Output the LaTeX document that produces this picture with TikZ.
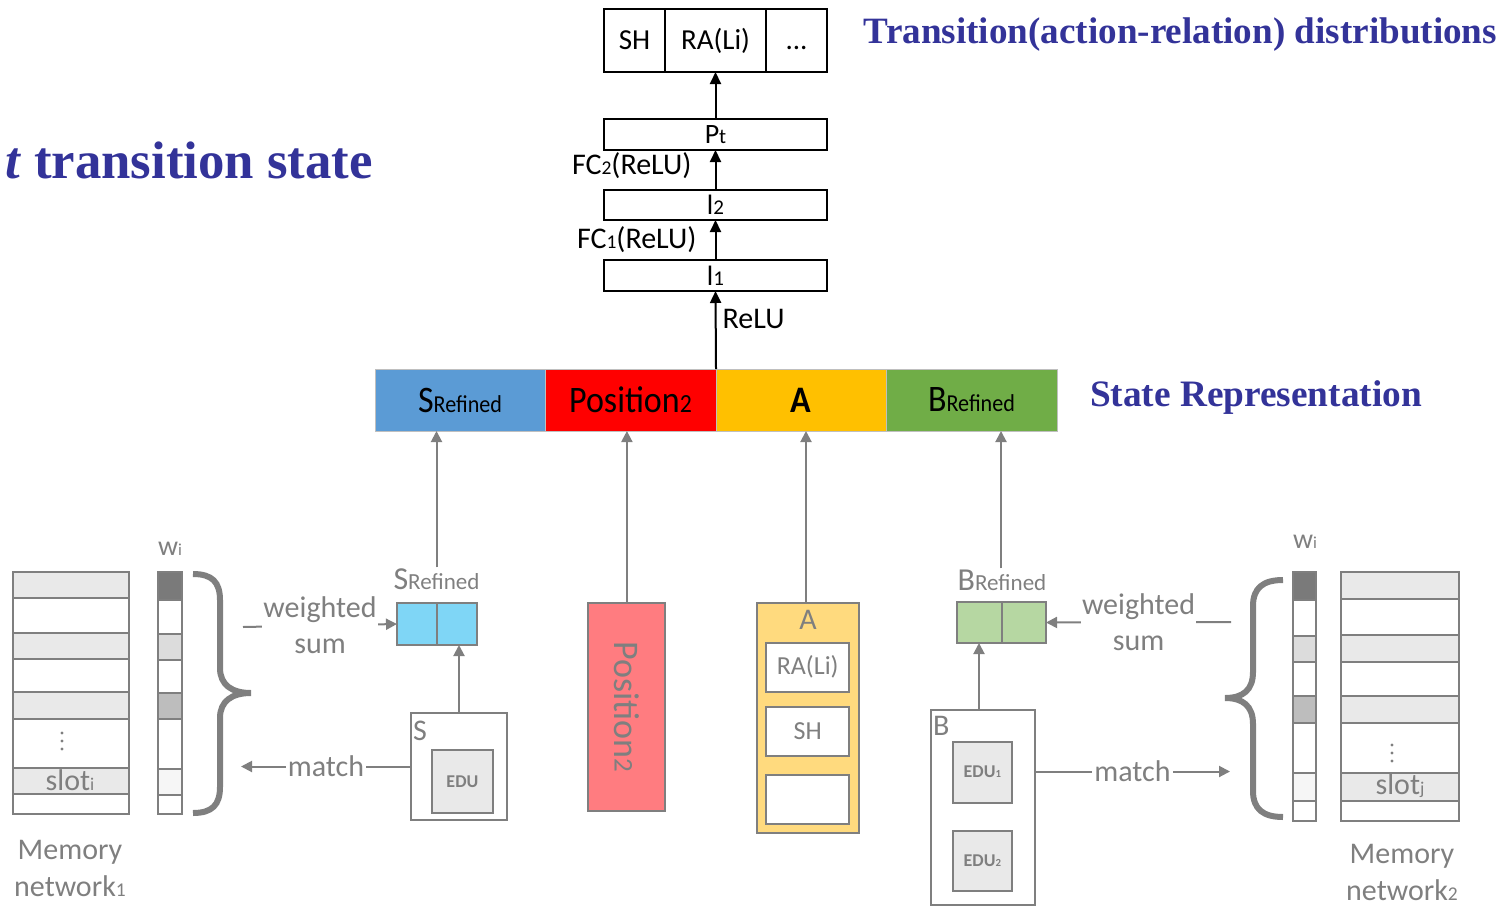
\documentclass[tikz,border=0pt]{standalone}
\usepackage{fontspec}
\usepackage{graphicx}
\setmainfont{Carlito}
\newfontfamily\titlefont{Liberation Serif}
\usetikzlibrary{arrows.meta,calc}

\definecolor{lineg}{HTML}{7F7F7F}
\definecolor{cellg}{HTML}{E9E9E9}
\definecolor{wdark}{HTML}{7A7A7A}
\definecolor{wlight}{HTML}{DCDCDC}
\definecolor{wmid}{HTML}{BDBDBD}
\definecolor{wvlight}{HTML}{F6F6F6}
\definecolor{cyanf}{HTML}{7FD6F6}
\definecolor{greenf}{HTML}{B6D7A2}
\definecolor{salmon}{HTML}{FF7C80}
\definecolor{afill}{HTML}{FFDA7E}
\definecolor{barblue}{HTML}{5B9BD5}
\definecolor{barred}{HTML}{FF0000}
\definecolor{barorange}{HTML}{FFC000}
\definecolor{bargreen}{HTML}{70AD47}
\definecolor{titleblue}{HTML}{333399}

\newcommand\fs[1]{\fontsize{#1}{#1}\selectfont}
\newcommand\lo[2][0.65]{\scalebox{#1}{#2}}

\begin{document}
\begin{tikzpicture}[x=1pt,y=-1pt,
  box/.style={rectangle, inner sep=0pt, outer sep=0pt},
  gbox/.style={box, draw=lineg, line width=2pt},
  kbox/.style={box, draw=black, line width=1.8pt, text=black},
  outcell/.style={kbox, minimum height=63pt, font=\fs{29}, text height=19pt, text depth=0pt},
  seg/.style={box, draw=black!25, line width=1pt, minimum height=62pt, text=black},
  cell/.style={draw=lineg, line width=2pt},
  gtext/.style={text=lineg, inner sep=1pt},
  garrow/.style={draw=lineg, line width=2pt, -{Triangle[length=11pt,width=11pt]}},
  barrow/.style={draw=black, line width=2pt, -{Triangle[length=12pt,width=11pt]}},
  brace/.style={draw=lineg, line width=6pt, line cap=butt},
  title/.style={text=titleblue, inner sep=0pt, font=\titlefont\bfseries}
]
\useasboundingbox (0,0) rectangle (1512,907);

% ---------------- output layers ----------------
\node[outcell, minimum width=61pt] (sh) at (634.5,40.5) {SH};
\node[outcell, minimum width=101pt] (ra) at (715.5,40.5) {RA(Li)};
\node[outcell, minimum width=61pt] (dd) at (796.5,40.5) {...};
\node[kbox, minimum width=223pt, minimum height=31pt, font=\fs{28}] (pt) at (715.5,134.5) {P\lo[0.75]{t}};
\node[kbox, minimum width=223pt, minimum height=30pt, font=\fs{28}] (l2) at (715.5,205) {l\lo[0.75]{2}};
\node[kbox, minimum width=223pt, minimum height=31pt, font=\fs{28}] (l1) at (715.5,275.5) {l\lo[0.75]{1}};

% ---------------- state representation bar ----------------
\node[seg, minimum width=170pt, fill=barblue, font=\fs{34}] (sref) at (460,400) {\scalebox{1}[1.1]{S\lo{Refined}}};
\node[seg, minimum width=171pt, fill=barred, font=\fs{34}] (pos) at (630.5,400) {\scalebox{1}[1.1]{Position\lo[0.7]{2}}};
\node[seg, minimum width=170pt, fill=barorange, font=\fs{34}\bfseries] (aseg) at (801,400) {\scalebox{1}[1.1]{A}};
\node[seg, minimum width=171pt, fill=bargreen, font=\fs{34}] (bref) at (971.5,400) {\scalebox{1}[1.1]{B\lo{Refined}}};

\draw[barrow] (aseg.north west) -- (l1.south) node[pos=0.64, right, inner sep=6pt, font=\fs{30}, text=black] {ReLU};
\draw[barrow] (l1.north) -- (l2.south) node[midway, left, inner sep=18pt, font=\fs{30}, text=black] {FC\lo[0.65]{1}(ReLU)};
\draw[barrow] (l2.north) -- (pt.south) node[pos=0.6, left, inner sep=23pt, font=\fs{30}, text=black] {FC\lo[0.65]{2}(ReLU)};
\draw[barrow] (pt.north) -- (ra.south);

% ---------------- titles ----------------
\node[title] (ttl) at (189,160) {\resizebox{368pt}{!}{\fs{52}\textit{t} transition state}};
\node[title] (dist) at (1180.5,35) {\resizebox{633pt}{!}{\fs{30}Transition(action-relation) distributions}};
\node[title] (strep) at (1256,398) {\resizebox{332pt}{!}{\fs{30}State Representation}};

% ---------------- left: memory network 1 ----------------
\foreach \a/\b/\c in {571.7/598.3/cellg,598.3/632.7/white,632.7/659.3/cellg,659.3/692.3/white,692.3/718.7/cellg,718.7/767.7/white,767.7/794.3/cellg,794.3/814.3/white}
  \draw[cell, fill=\c] (13,\a) rectangle (129,\b);
\foreach \yy in {733,741,749} \fill[lineg] (62,\yy) circle (1.6pt);
\node[gtext, font=\fs{30}] (sloti) at (70,780) {slot\lo[0.6]{i}};
\foreach \a/\b/\c in {571.7/600/wdark,600/634/white,634/660/wlight,660/693/white,693/719/wmid,719/769/white,769/795/wvlight,795/814.3/white}
  \draw[cell, fill=\c] (158,\a) rectangle (182,\b);
\node[gtext, font=\fs{28}] (wl) at (170,549) {w\lo[0.6]{i}};
\node[gtext, font=\fs{30}, align=center] (mem1) at (70,868) {Memory\\[7pt]network\lo[0.65]{1}};
\draw[brace] (193,574) .. controls (212,574) and (220,582) .. (220,600) -- (220,668)
  .. controls (220,685) and (232,693) .. (251,693)
  .. controls (232,693) and (220,701) .. (220,718) -- (220,787)
  .. controls (220,805) and (212,813) .. (193,813);

% S and its refined vector
\node[gtext, font=\fs{32}] (srl) at (436.5,579) {S\lo[0.72]{Refined}};
\node[gbox, fill=cyanf, minimum width=80pt, minimum height=42pt] (cy) at (437,624) {};
\draw[line width=2pt, lineg] (cy.north) -- (cy.south);
\node[gbox, fill=white, minimum width=96pt, minimum height=107pt] (sbox) at (459,766.5) {};
\node[gtext, font=\fs{30}, anchor=north west, inner sep=2pt, yshift=-6pt] (slab) at (sbox.north west) {S};
\node[gbox, fill=cellg, minimum width=61pt, minimum height=63pt, text=lineg, font=\fs{18}\bfseries] (edu) at (462.4,781.4) {EDU};
\draw[garrow] (sbox.north) -- (sbox.north |- cy.south);
\coordinate (mL) at (241,766.5);
\draw[garrow] (sbox.west) -- (mL) node[midway, gtext, fill=white, font=\fs{30}, inner sep=2pt] {match};
\coordinate (wL) at (243,627);
\draw[garrow] (wL) -- (cy.west) node[pos=0.5, gtext, fill=white, font=\fs{30}, align=center, inner sep=1pt] {weighted\\[6pt]sum};

% ---------------- middle: position and action ----------------
\node[gbox, fill=salmon, minimum width=77pt, minimum height=208pt] (posbox) at (626.9,707) {};
\node[gtext, font=\fs{36}, rotate=-90] (poslab) at (posbox.center) {Position\lo[0.75]{2}};
\node[gbox, fill=afill, minimum width=102pt, minimum height=230pt] (abox) at (808.3,717.7) {};
\node[gtext, font=\fs{30}] (alab) at (808,620) {A};
\node[gbox, fill=white, minimum width=83pt, minimum height=49pt, text=lineg, font=\fs{26}] (ra2) at (807.7,667) {RA(Li)};
\node[gbox, fill=white, minimum width=83pt, minimum height=49pt, text=lineg, font=\fs{26}] (sh2) at (807.7,731.5) {SH};
\node[gbox, fill=white, minimum width=83pt, minimum height=49pt] (emp) at (807.7,799.6) {};

% ---------------- right: B and memory network 2 ----------------
\node[gtext, font=\fs{32}] (brl) at (1002,580) {B\lo[0.72]{Refined}};
\node[gbox, fill=greenf, minimum width=89pt, minimum height=41pt] (gr) at (1001.5,622.5) {};
\draw[line width=2pt, lineg] (gr.north) -- (gr.south);
\node[gbox, fill=white, minimum width=104pt, minimum height=195pt] (bbox) at (983,807.5) {};
\node[gtext, font=\fs{30}, anchor=north west, inner sep=2pt, yshift=-4pt] (blab) at (bbox.north west) {B};
\node[gbox, fill=cellg, minimum width=59pt, minimum height=61pt, text=lineg, font=\fs{18}\bfseries] (edu1) at (982.3,772) {EDU\lo[0.6]{1}};
\node[gbox, fill=cellg, minimum width=59pt, minimum height=60pt, text=lineg, font=\fs{18}\bfseries] (edu2) at (982.3,861) {EDU\lo[0.6]{2}};
\draw[garrow] (bbox.north -| 979,0) -- (gr.south -| 979,0);
\coordinate (mR) at (1230,771.5);
\draw[garrow] (bbox.east |- mR) -- (mR) node[midway, gtext, fill=white, font=\fs{30}, inner sep=2pt] {match};
\coordinate (wR) at (1231,622);
\draw[garrow] (wR) -- (gr.east) node[pos=0.5, gtext, fill=white, font=\fs{30}, align=center, inner sep=1pt] {weighted\\[6pt]sum};

\foreach \a/\b/\c in {571.7/600/wdark,600/636/white,636/662.3/wlight,662.3/695.7/white,695.7/723.3/wmid,723.3/773.3/white,773.3/800.7/wvlight,800.7/821/white}
  \draw[cell, fill=\c] (1293,\a) rectangle (1316,\b);
\foreach \a/\b/\c in {571.7/599/cellg,599/635/white,635/662.3/cellg,662.3/695.7/white,695.7/722.7/cellg,722.7/773.3/white,773.3/800.7/cellg,800.7/821/white}
  \draw[cell, fill=\c] (1341,\a) rectangle (1459,\b);
\foreach \yy in {745,753,761} \fill[lineg] (1392,\yy) circle (1.6pt);
\node[gtext, font=\fs{30}] (slotj) at (1400,786) {slot\lo[0.6]{j}};
\node[gtext, font=\fs{28}] (wr) at (1305,542) {w\lo[0.6]{i}};
\node[gtext, font=\fs{30}, align=center] (mem2) at (1402,872) {Memory\\[7pt]network\lo[0.65]{2}};
\draw[brace] (1283,580) .. controls (1263,580) and (1253,588) .. (1253,606) -- (1253,672)
  .. controls (1253,690) and (1243,698) .. (1225,698)
  .. controls (1243,698) and (1253,706) .. (1253,724) -- (1253,791)
  .. controls (1253,809) and (1263,817) .. (1283,817);

% ---------------- feeds into the state bar ----------------
\draw[garrow] (srl.north) -- (srl.north |- sref.south);
\draw[garrow] (posbox.north) -- (posbox.north |- pos.south);
\draw[garrow] (abox.north -| 806,0) -- (aseg.south -| 806,0);
\draw[garrow] (brl.north -| 1001,0) -- (bref.south -| 1001,0);

\end{tikzpicture}
\end{document}
